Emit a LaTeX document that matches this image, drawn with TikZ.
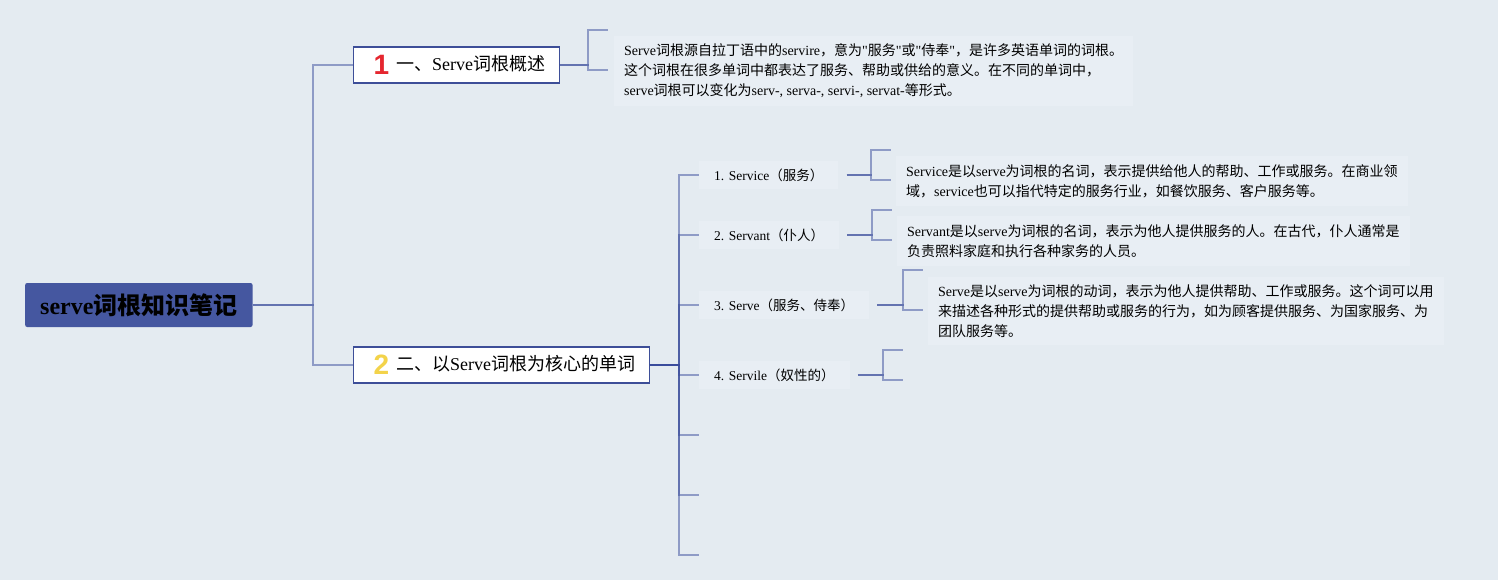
\documentclass[tikz,border=0pt]{standalone}
\usepackage{fontspec}
\newfontfamily\latinfont{Liberation Serif}[NFSSFamily=libserif]
\renewcommand\rmdefault{libserif}
\renewcommand\familydefault{\rmdefault}
\newfontfamily\cjkfont{Noto Sans CJK SC}
\newfontfamily\numfont{Liberation Sans}
\usepackage{xcolor}
\usetikzlibrary{calc, positioning}

% switch to the CJK family for Chinese characters
\XeTeXinterchartokenstate=1
\newXeTeXintercharclass\cjkclass
\makeatletter
\def\setcjkrange#1#2{\count@=#1\relax
  \loop\XeTeXcharclass\count@=\cjkclass
  \ifnum\count@<#2\relax\advance\count@\@ne\repeat}
\makeatother
\setcjkrange{"3000}{"303F}
\setcjkrange{"4E00}{"9FFF}
\setcjkrange{"FF00}{"FFEF}
\XeTeXinterchartoks 0 \cjkclass = {\cjkfont}
\XeTeXinterchartoks 4095 \cjkclass = {\cjkfont}
\XeTeXinterchartoks \cjkclass 0 = {\rmfamily}
\XeTeXinterchartoks \cjkclass 4095 = {\rmfamily}

\definecolor{pagebg}{HTML}{E4EBF1}
\definecolor{notebg}{HTML}{E8EEF4}
\definecolor{rootblue}{HTML}{4557A0}
\definecolor{topicblue}{HTML}{3D4E98}
\definecolor{linkblue}{HTML}{3A4C9C}
\definecolor{badgered}{HTML}{E5262F}
\definecolor{badgeyellow}{HTML}{F3D34A}

\newcommand\badge[2]{\raisebox{-4pt}{\numfont\bfseries\fontsize{28}{28}\selectfont\color{#1}#2}}

\begin{document}
\begin{tikzpicture}[x=1pt, y=-1pt,
  rootbox/.style={anchor=west, fill=rootblue, rounded corners=2pt, inner xsep=15pt,
    minimum height=44pt, font=\fontsize{24}{28}\selectfont\bfseries},
  topicbox/.style={anchor=west, draw=topicblue, line width=1.2pt, fill=white,
    inner xsep=14pt, minimum height=36pt, font=\fontsize{18}{22}\selectfont},
  subbox/.style={anchor=west, fill=notebg, inner xsep=15pt, inner ysep=8pt,
    font=\fontsize{13.5}{16}\selectfont},
  notebox/.style={anchor=west, fill=notebg, inner xsep=10pt, inner ysep=8pt,
    align=left, font=\fontsize{14}{20}\selectfont},
  link/.style={draw=linkblue, draw opacity=0.5, line width=1.4pt}]
  % Background
  \fill[pagebg] (0,0) rectangle (1498,580);
  \useasboundingbox (0,0) rectangle (1498,580);
  % Root and topics
  \node[rootbox] (root) at (25,305) {serve词根知识笔记};
  \node[topicbox] (b1) at (353,65) {\hspace{6pt}\badge{badgered}{1}\hspace{7pt}一、Serve词根概述};
  \node[topicbox] (b2) at (353,365) {\hspace{6pt}\badge{badgeyellow}{2}\hspace{7pt}二、以Serve词根为核心的单词};
  \draw[link] (root.east) -- (313,305) |- (b1.west);
  \draw[link] (root.east) -- (313,305) |- (b2.west);
  % Topic 1 note
  \node[notebox] (n1) at (614,71) {Serve词根源自拉丁语中的servire，意为"服务"或"侍奉"，是许多英语单词的词根。\\这个词根在很多单词中都表达了服务、帮助或供给的意义。在不同的单词中，\\serve词根可以变化为serv-, serva-, servi-, servat-等形式。};
  \coordinate (n1a) at (608,30);
  \coordinate (n1b) at (608,70);
  \draw[link] (b1.east) -- (588,65) |- (n1a);
  \draw[link] (b1.east) -- (588,65) |- (n1b);
  % Topic 2 words
  \node[subbox] (s1) at (699,175) {1. Service（服务）};
  \node[subbox] (s2) at (699,235) {2. Servant（仆人）};
  \node[subbox] (s3) at (699,305) {3. Serve（服务、侍奉）};
  \node[subbox] (s4) at (699,375) {4. Servile（奴性的）};
  \coordinate (s5) at (699,435);
  \coordinate (s6) at (699,495);
  \coordinate (s7) at (699,555);
  \foreach \s in {s1,s2,s3,s4,s5,s6,s7}
    \draw[link] (b2.east) -- (679,365) |- (\s);
  % Word notes
  \node[notebox] (t1) at (896,181) {Service是以serve为词根的名词，表示提供给他人的帮助、工作或服务。在商业领\\域，service也可以指代特定的服务行业，如餐饮服务、客户服务等。};
  \node[notebox] (t2) at (897,241) {Servant是以serve为词根的名词，表示为他人提供服务的人。在古代，仆人通常是\\负责照料家庭和执行各种家务的人员。};
  \node[notebox] (t3) at (928,311) {Serve是以serve为词根的动词，表示为他人提供帮助、工作或服务。这个词可以用\\来描述各种形式的提供帮助或服务的行为，如为顾客提供服务、为国家服务、为\\团队服务等。};
  % Brackets
  \coordinate (k1a) at (891,150); \coordinate (k1b) at (891,180);
  \coordinate (k2a) at (892,210); \coordinate (k2b) at (892,240);
  \coordinate (k3a) at (923,270); \coordinate (k3b) at (923,310);
  \coordinate (k4a) at (903,350); \coordinate (k4b) at (903,380);
  \draw[link] ([xshift=8pt]s1.east) -- (871,175) |- (k1a);
  \draw[link] ([xshift=8pt]s1.east) -- (871,175) |- (k1b);
  \draw[link] ([xshift=8pt]s2.east) -- (872,235) |- (k2a);
  \draw[link] ([xshift=8pt]s2.east) -- (872,235) |- (k2b);
  \draw[link] ([xshift=8pt]s3.east) -- (903,305) |- (k3a);
  \draw[link] ([xshift=8pt]s3.east) -- (903,305) |- (k3b);
  \draw[link] ([xshift=8pt]s4.east) -- (883,375) |- (k4a);
  \draw[link] ([xshift=8pt]s4.east) -- (883,375) |- (k4b);
\end{tikzpicture}
\end{document}
